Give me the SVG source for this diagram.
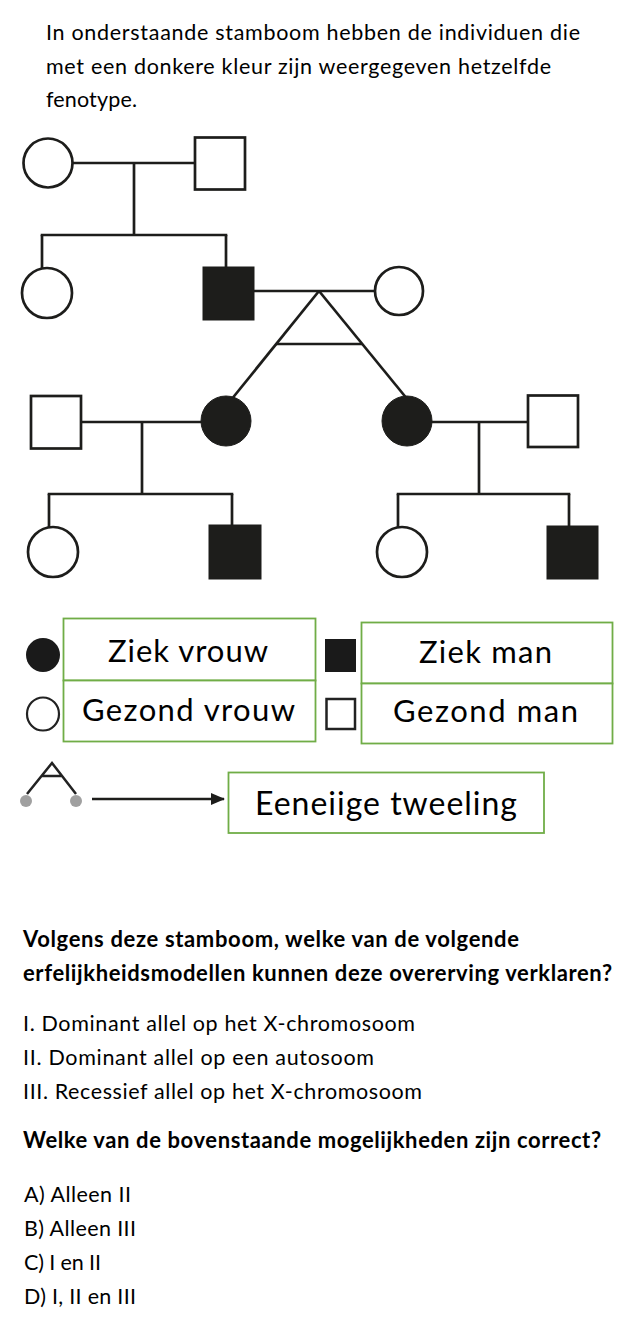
<svg xmlns="http://www.w3.org/2000/svg" width="636" height="1320" viewBox="0 0 636 1320">
  <style>
    .txt { font-family: Lato, "Open Sans", "Liberation Sans", sans-serif; fill: #000; }
    .p { font-size: 21.5px; }
    .b { font-size: 22px; font-weight: bold; }
    .lg { font-size: 31px; }
    .ln { fill: none; stroke: #1d1d1b; stroke-width: 2.7; }
    .open { fill: #fff; stroke: #1d1d1b; stroke-width: 2.7; }
    .aff { fill: #1d1d1b; stroke: #1d1d1b; stroke-width: 1; }
    .box { fill: #fff; stroke: #70ad47; stroke-width: 1.8; }
  </style>
  <defs>
    <marker id="arrowhead" markerWidth="14" markerHeight="12" refX="13" refY="6" orient="auto" markerUnits="userSpaceOnUse">
      <path d="M0,0 L14,6 L0,12 Z" fill="#1d1d1b"/>
    </marker>
  </defs>
  <rect width="636" height="1320" fill="#fff"/>

  <!-- intro paragraph -->
  <g id="intro" class="txt p">
    <text x="46" y="40" textLength="534">In onderstaande stamboom hebben de individuen die</text>
    <text x="46" y="74" textLength="505">met een donkere kleur zijn weergegeven hetzelfde</text>
    <text x="46" y="107" textLength="91">fenotype.</text>
  </g>

  <!-- pedigree lines -->
  <g id="connectors" class="ln">
    <!-- generation I -->
    <line x1="72" y1="163" x2="196" y2="163"/>
    <line x1="134" y1="163" x2="134" y2="235"/>
    <line x1="40.7" y1="235" x2="227.3" y2="235"/>
    <line x1="42" y1="235" x2="42" y2="270"/>
    <line x1="226" y1="235" x2="226" y2="268"/>
    <!-- generation II couple and twins -->
    <line x1="253" y1="291" x2="376" y2="291"/>
    <line x1="319" y1="291" x2="231" y2="400"/>
    <line x1="319" y1="291" x2="408" y2="400"/>
    <line x1="276" y1="344" x2="362" y2="344"/>
    <!-- generation III left family -->
    <line x1="80" y1="422" x2="202" y2="422"/>
    <line x1="142" y1="422" x2="142" y2="494"/>
    <line x1="47.7" y1="494" x2="233.3" y2="494"/>
    <line x1="49" y1="494" x2="49" y2="529"/>
    <line x1="232" y1="494" x2="232" y2="526"/>
    <!-- generation III right family -->
    <line x1="431" y1="422" x2="529" y2="422"/>
    <line x1="479" y1="422" x2="479" y2="494"/>
    <line x1="396.7" y1="494" x2="570.3" y2="494"/>
    <line x1="398" y1="494" x2="398" y2="529"/>
    <line x1="569" y1="494" x2="569" y2="527"/>
  </g>

  <!-- individuals -->
  <g id="I-1"><circle class="open" cx="48" cy="163" r="24.5"/></g>
  <g id="I-2"><rect class="open" x="195" y="137.5" width="50" height="52"/></g>
  <g id="II-1"><circle class="open" cx="47" cy="293" r="25"/></g>
  <g id="II-2"><rect class="aff" x="203" y="267" width="51" height="53"/></g>
  <g id="II-3"><circle class="open" cx="399" cy="291" r="24"/></g>
  <g id="III-1"><rect class="open" x="31" y="396" width="50" height="52.5"/></g>
  <g id="III-2"><circle class="aff" cx="226" cy="421" r="25"/></g>
  <g id="III-3"><circle class="aff" cx="407" cy="421" r="25"/></g>
  <g id="III-4"><rect class="open" x="528" y="395.5" width="50" height="51.5"/></g>
  <g id="IV-1"><circle class="open" cx="53" cy="552" r="25"/></g>
  <g id="IV-2"><rect class="aff" x="209" y="525" width="52" height="54"/></g>
  <g id="IV-3"><circle class="open" cx="402" cy="552" r="25"/></g>
  <g id="IV-4"><rect class="aff" x="547" y="526" width="51" height="53"/></g>

  <!-- legend: female -->
  <g id="legend-female">
    <circle cx="43" cy="655" r="17" fill="#1a1a1a"/>
    <ellipse cx="43" cy="714" rx="16" ry="16.5" fill="#fff" stroke="#222" stroke-width="2.2"/>
    <rect class="box" x="63.5" y="618.5" width="252" height="62"/>
    <rect class="box" x="63.5" y="680.5" width="252" height="61"/>
    <text class="txt lg" x="108" y="662" textLength="160">Ziek vrouw</text>
    <text class="txt lg" x="82" y="721" textLength="213">Gezond vrouw</text>
  </g>

  <!-- legend: male -->
  <g id="legend-male">
    <rect x="325" y="639" width="31" height="33" fill="#1a1a1a"/>
    <rect x="326.5" y="699" width="28.5" height="30" fill="#fff" stroke="#222" stroke-width="2.5"/>
    <rect class="box" x="361.5" y="622.5" width="251" height="61"/>
    <rect class="box" x="361.5" y="683.5" width="251" height="60"/>
    <text class="txt lg" x="419" y="663" textLength="133">Ziek man</text>
    <text class="txt lg" x="393" y="722" textLength="185">Gezond man</text>
  </g>

  <!-- legend: identical twins -->
  <g id="legend-twins">
    <path d="M27,794 L52,763 L76,794 M41.5,776 L62,776" fill="none" stroke="#222" stroke-width="2.5"/>
    <circle cx="26" cy="801" r="6" fill="#a0a0a0"/>
    <circle cx="76" cy="801" r="6" fill="#a0a0a0"/>
  </g>
  <g id="legend-arrow">
    <line x1="92" y1="799" x2="224" y2="799" stroke="#1d1d1b" stroke-width="2.5" marker-end="url(#arrowhead)"/>
  </g>
  <g id="legend-twins-label">
    <rect class="box" x="228.5" y="772.5" width="315.5" height="60.5"/>
    <text class="txt" x="255" y="815" font-size="32" textLength="262">Eeneiige tweeling</text>
  </g>

  <!-- question -->
  <g id="question" class="txt">
    <text class="b" x="23" y="947" textLength="496">Volgens deze stamboom, welke van de volgende</text>
    <text class="b" x="23" y="981" textLength="589">erfelijkheidsmodellen kunnen deze overerving verklaren?</text>
    <text class="p" x="23" y="1031" textLength="392">I. Dominant allel op het X-chromosoom</text>
    <text class="p" x="23" y="1065" textLength="351">II. Dominant allel op een autosoom</text>
    <text class="p" x="23" y="1099" textLength="399">III. Recessief allel op het X-chromosoom</text>
    <text class="b" x="23" y="1148" textLength="578">Welke van de bovenstaande mogelijkheden zijn correct?</text>
    <text class="p" x="24" y="1202" textLength="107">A) Alleen II</text>
    <text class="p" x="24" y="1236" textLength="112">B) Alleen III</text>
    <text class="p" x="24" y="1270" textLength="77">C) I en II</text>
    <text class="p" x="24" y="1304" textLength="112">D) I, II en III</text>
  </g>
</svg>
